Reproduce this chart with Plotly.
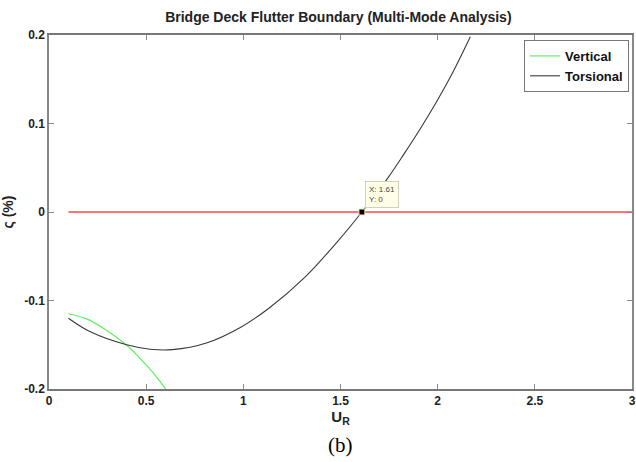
import plotly.graph_objects as go

# Data
tors_x = [0.10, 0.21, 0.40, 0.52, 0.635, 0.81, 0.98, 1.13, 1.32, 1.49, 1.61, 1.742, 1.828, 1.913, 1.998, 2.083, 2.168]
tors_y = [-0.120, -0.135, -0.150, -0.155, -0.1555, -0.148, -0.131, -0.109, -0.073, -0.032, 0.0, 0.038, 0.066, 0.095, 0.126, 0.160, 0.198]

vert_x = [0.10, 0.19, 0.295, 0.40, 0.465, 0.533, 0.59, 0.62]
vert_y = [-0.115, -0.1205, -0.1335, -0.1505, -0.1645, -0.181, -0.197, -0.206]

zero_x = [0.1, 3.0]
zero_y = [0.0, 0.0]

tip_x = [1.61]
tip_y = [0.0]

x_ticks = [0, 0.5, 1, 1.5, 2, 2.5, 3]
x_tick_text = ["0", "0.5", "1", "1.5", "2", "2.5", "3"]
y_ticks = [-0.2, -0.1, 0, 0.1, 0.2]
y_tick_text = ["-0.2", "-0.1", "0", "0.1", "0.2"]

title = "Bridge Deck Flutter Boundary (Multi-Mode Analysis)"

NARROW = "Liberation Sans Narrow, Arial Narrow, Liberation Sans, sans-serif"

fig = go.Figure()
fig.add_trace(go.Scatter(x=zero_x, y=zero_y, mode="lines",
                         line=dict(color="#ff7474", width=2), showlegend=False, hoverinfo="skip"))
fig.add_trace(go.Scatter(x=vert_x, y=vert_y, mode="lines", name="Vertical",
                         line=dict(color="#5cf05c", width=1.2, shape="spline", smoothing=1.0)))
fig.add_trace(go.Scatter(x=tors_x, y=tors_y, mode="lines", name="Torsional",
                         line=dict(color="#3a3a3a", width=1.1, shape="spline", smoothing=1.0)))
fig.add_trace(go.Scatter(x=tip_x, y=tip_y, mode="markers", showlegend=False,
                         marker=dict(symbol="square", size=6, color="black",
                                     line=dict(color="#f5f0c0", width=1))))

fig.add_annotation(x=tip_x[0], y=tip_y[0], xref="x", yref="y",
                   text="X: 1.61<br>Y: 0", showarrow=False,
                   xanchor="left", yanchor="bottom", xshift=3, yshift=4,
                   align="left", bgcolor="#ffffe6", bordercolor="#d0d0bc",
                   borderwidth=1, borderpad=3,
                   font=dict(family=NARROW, size=8, color="#444444"))

fig.add_annotation(x=0.5, y=-0.158, xref="paper", yref="paper",
                   text="(b)", showarrow=False, yanchor="middle",
                   font=dict(family="Liberation Serif", size=21, color="black"))

axis_font = dict(family=NARROW, size=12, color="#222222", weight="bold")

fig.update_layout(
    width=636, height=462,
    margin=dict(l=49, r=0, t=35, b=73),
    paper_bgcolor="white", plot_bgcolor="white",
    title=dict(text=title, x=0.532, xanchor="center", y=0.962, yanchor="middle",
               font=dict(family=NARROW, size=14, color="#222222", weight="bold")),
    legend=dict(x=0.995, y=0.986, xanchor="right", yanchor="top",
                bgcolor="white", bordercolor="#777777", borderwidth=1,
                font=dict(family=NARROW, size=13, color="#111111", weight="bold"),
                tracegroupgap=0, itemwidth=30),
    xaxis=dict(range=[0, 3], tickvals=x_ticks, ticktext=x_tick_text,
               ticks="inside", ticklen=5, tickcolor="#888888",
               ticklabeloverflow="allow",
               showline=True, linecolor="#777777", linewidth=1.5, mirror="ticks",
               showgrid=False, zeroline=False, tickfont=axis_font,
               title=dict(text="U<sub>R</sub>", standoff=4,
                          font=dict(family=NARROW, size=15, color="#222222", weight="bold"))),
    yaxis=dict(range=[-0.2, 0.2], tickvals=y_ticks, ticktext=y_tick_text,
               ticks="inside", ticklen=5, tickcolor="#888888",
               showline=True, linecolor="#888888", linewidth=1.5, mirror="ticks",
               showgrid=False, zeroline=False, tickfont=axis_font,
               title=dict(text="ς (%)", standoff=12,
                          font=dict(family="Liberation Sans", size=14, color="#222222", weight="bold"))),
)

fig.write_html("out.html")
